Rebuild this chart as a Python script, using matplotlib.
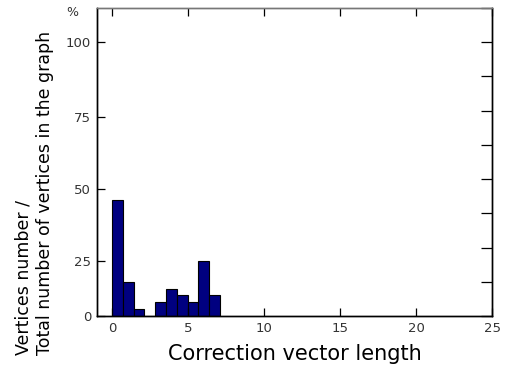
import numpy as np
import matplotlib
matplotlib.use("Agg")
import matplotlib.pyplot as plt

# histogram of correction vector lengths (10 bins over 0..7.1)
bin_edges = np.linspace(0.0, 7.1, 11)
counts = [17, 5, 1, 0, 2, 4, 3, 2, 8, 3]

# left axis labels (percent) and where they sit on the count scale
pct_labels = ["0", "25", "50", "75", "100"]
pct_pos = [0, 8.0, 18.6, 29.1, 40.0]

fig = plt.figure(figsize=(5.18, 3.69), dpi=100)
ax = fig.add_axes([0.187, 0.1436, 0.763, 0.8346])

widths = np.diff(bin_edges)
ax.bar(bin_edges[:-1], counts, width=widths, align="edge",
       color="#000080", edgecolor="black", linewidth=0.8)

ax.set_xlim(-1, 25)
ax.set_ylim(0, 45)

ax.set_xticks([0, 5, 10, 15, 20, 25])
ax.set_xticklabels(["0", "5", "10", "15", "20", "25"], color="#333333", fontsize=9.5)
ax.set_yticks(pct_pos)
ax.set_yticklabels(pct_labels, color="#333333", fontsize=9.5)
ax.tick_params(axis="both", direction="in", length=6, width=0.9, top=True, right=False)
ax.tick_params(axis="x", pad=4)
ax.tick_params(axis="y", pad=4)

# right-hand ticks every 5 counts
ax2 = ax.twinx()
ax2.set_ylim(0, 45)
ax2.set_yticks(np.arange(0, 46, 5))
ax2.tick_params(axis="y", direction="in", length=8, width=0.9, labelright=False)

for a in (ax, ax2):
    for s in a.spines.values():
        s.set_linewidth(1.0)
    a.spines["top"].set_color("#777777")

fig.text(0.139, 0.967, "%", fontsize=9, color="#333333", ha="center", va="center")

ax.set_xlabel("Correction vector length", fontsize=15, labelpad=7)
fig.text(0.066, 0.038, "Vertices number /\nTotal number of vertices in the graph",
         rotation=90, fontsize=12.5, ha="center", va="bottom",
         multialignment="left", linespacing=1.2)

fig.savefig("out.png", dpi=100)
